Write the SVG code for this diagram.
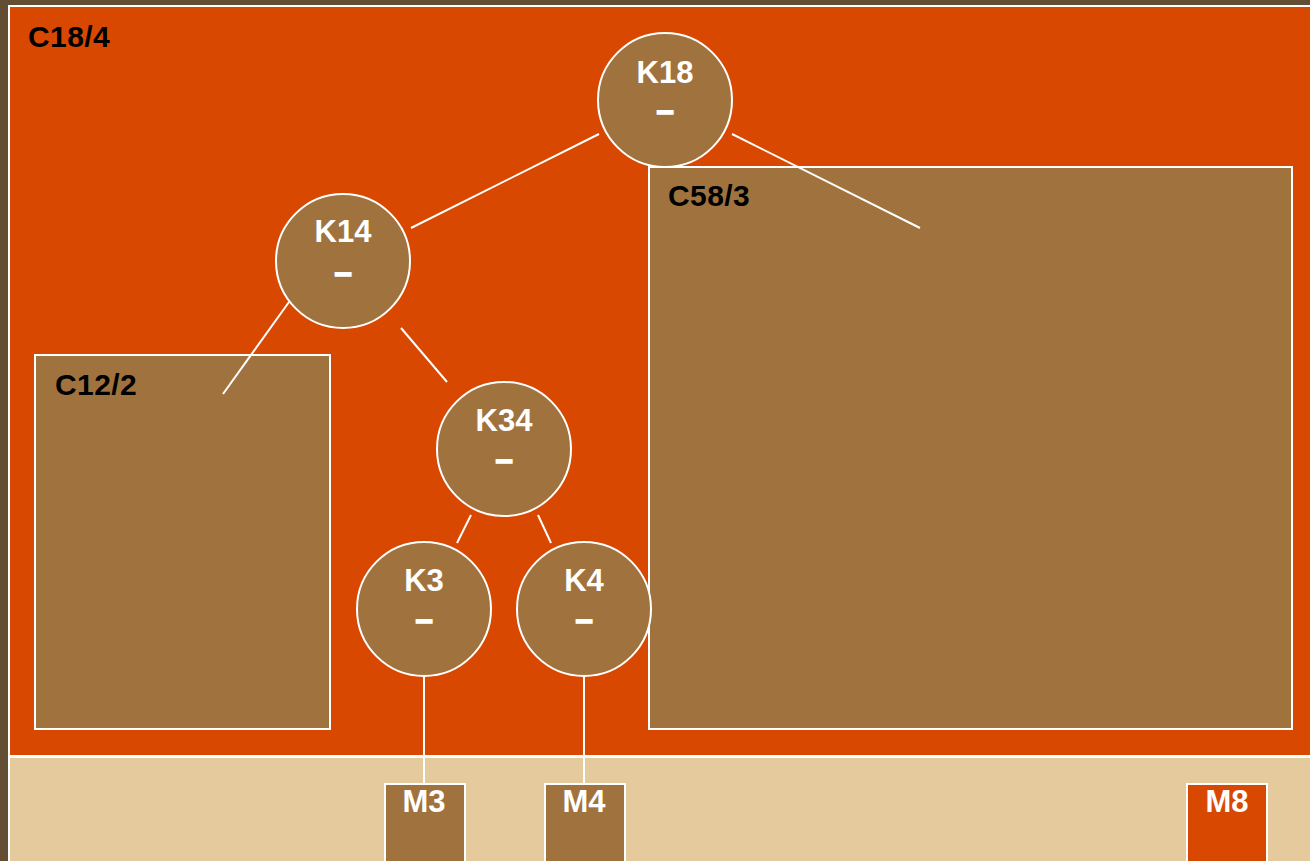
<svg xmlns="http://www.w3.org/2000/svg" width="1310" height="861" viewBox="0 0 1310 861">
<style>
.bg{fill:#634e33}
.cont{fill:#d94800;stroke:#fff;stroke-width:2}
.mem{fill:#e5ca9e;stroke:#fff;stroke-width:2}
.box{fill:#a0733e;stroke:#fff;stroke-width:2}
.mbox{fill:#a0733e;stroke:#fff;stroke-width:2}
.m8{fill:#d94800;stroke:#fff;stroke-width:2}
.node{fill:#a0733e;stroke:#fff;stroke-width:2}
.lbl{font-family:"Liberation Sans",Arial,sans-serif;font-weight:bold;font-size:30px;letter-spacing:0.4px;fill:#000}
.nt{font-family:"Liberation Sans",Arial,sans-serif;font-weight:bold;font-size:31px;fill:#fff;text-anchor:middle}
.dash{stroke:#fff;stroke-width:1.6}
.edge{stroke:#fff;stroke-width:2;fill:none}
</style>
<rect class="bg" x="0" y="0" width="1310" height="861"/>
<g id="C18">
<rect class="cont" x="9" y="6" width="1310" height="750"/>
<text class="lbl" x="28" y="47">C18/4</text>
</g>
<g id="memory">
<rect class="mem" x="9" y="757" width="1310" height="120"/>
</g>
<g id="C12">
<rect class="box" x="35" y="355" width="295" height="374"/>
<text class="lbl" x="55" y="395">C12/2</text>
</g>
<g id="C58">
<rect class="box" x="649" y="167" width="643" height="562"/>
<text class="lbl" x="668" y="206">C58/3</text>
</g>
<g id="edges">
<line class="edge" x1="732" y1="134" x2="920" y2="228"/>
<line class="edge" x1="599" y1="134" x2="411" y2="228"/>
<line class="edge" x1="289" y1="302" x2="223" y2="394"/>
<line class="edge" x1="401" y1="328" x2="447" y2="382"/>
<line class="edge" x1="471" y1="515" x2="457" y2="543"/>
<line class="edge" x1="538" y1="515" x2="551" y2="543"/>
<line class="edge" x1="424" y1="676" x2="424" y2="783"/>
<line class="edge" x1="584" y1="676" x2="584" y2="783"/>
</g>
<g id="K18">
<circle class="node" cx="665" cy="100" r="67"/>
<text class="nt" x="665" y="83">K18</text>
<text class="nt dash" x="665" y="121">–</text>
</g>
<g id="K14">
<circle class="node" cx="343" cy="261" r="67"/>
<text class="nt" x="343" y="242">K14</text>
<text class="nt dash" x="343" y="283">–</text>
</g>
<g id="K34">
<circle class="node" cx="504" cy="449" r="67"/>
<text class="nt" x="504" y="431">K34</text>
<text class="nt dash" x="504" y="470">–</text>
</g>
<g id="K3">
<circle class="node" cx="424" cy="609" r="67"/>
<text class="nt" x="424" y="591">K3</text>
<text class="nt dash" x="424" y="630">–</text>
</g>
<g id="K4">
<circle class="node" cx="584" cy="609" r="67"/>
<text class="nt" x="584" y="591">K4</text>
<text class="nt dash" x="584" y="630">–</text>
</g>
<g id="M3">
<rect class="mbox" x="385" y="784" width="80" height="90"/>
<text class="nt" x="424" y="812">M3</text>
</g>
<g id="M4">
<rect class="mbox" x="545" y="784" width="80" height="90"/>
<text class="nt" x="584" y="812">M4</text>
</g>
<g id="M8">
<rect class="m8" x="1187" y="784" width="80" height="90"/>
<text class="nt" x="1227" y="812">M8</text>
</g>
</svg>
